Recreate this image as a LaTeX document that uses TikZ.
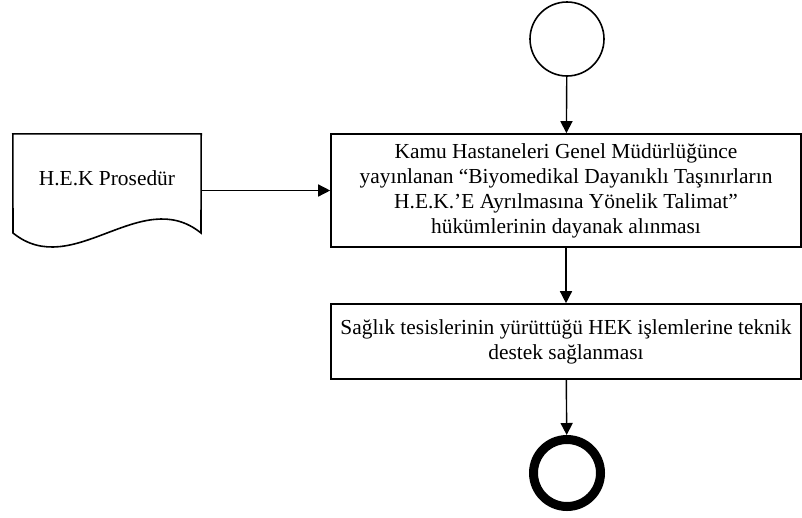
\documentclass[tikz,border=0pt]{standalone}
\usepackage{fontspec}
\setmainfont{Liberation Serif}
\usetikzlibrary{arrows.meta,positioning}

\begin{document}
\begin{tikzpicture}[
  x=1pt,y=-1pt,
  font=\fontsize{21.4}{25}\selectfont,
  box/.style={draw,line width=1.6pt,align=center,inner sep=4pt,minimum width=470pt},
  startev/.style={draw,circle,line width=1.6pt,minimum size=74pt,inner sep=0pt},
  endev/.style={draw,circle,line width=9pt,minimum size=67pt,inner sep=0pt},
  docframe/.style={minimum width=188pt,minimum height=113pt,inner sep=0pt},
  arrow/.style={-{Triangle[length=12pt,width=12pt]},line width=1.4pt}
]
\useasboundingbox (0,0) rectangle (802,517);
\node[startev] (start) at (567,39) {};
\node[box,minimum height=113pt] (talimat) at (566,190.5) {Kamu Hastaneleri Genel Müdürlüğünce\\yayınlanan “Biyomedikal Dayanıklı Taşınırların\\H.E.K.’E Ayrılmasına Yönelik Talimat”\\hükümlerinin dayanak alınması};
\node[box,minimum height=75pt] (destek) at (566,341.5) {Sağlık tesislerinin yürüttüğü HEK işlemlerine teknik\\destek sağlanması};
\node[endev] (stop) at (567,473) {};
% document symbol
\node[docframe] (doc) at (107,190.5) {};
\node at ([yshift=12.5pt]doc.center) {H.E.K Prosedür};
\draw[line width=1.6pt] (doc.north west) -- (13,233) .. controls (73,281.5) and (141,184.5) .. (201,233) -- (doc.north east) -- cycle;
\draw[arrow] (start) -- (talimat);
\draw[arrow] (doc.east) -- (talimat.west);
\draw[arrow] (talimat) -- (destek);
\draw[arrow] (destek) -- (stop);
\end{tikzpicture}
\end{document}
